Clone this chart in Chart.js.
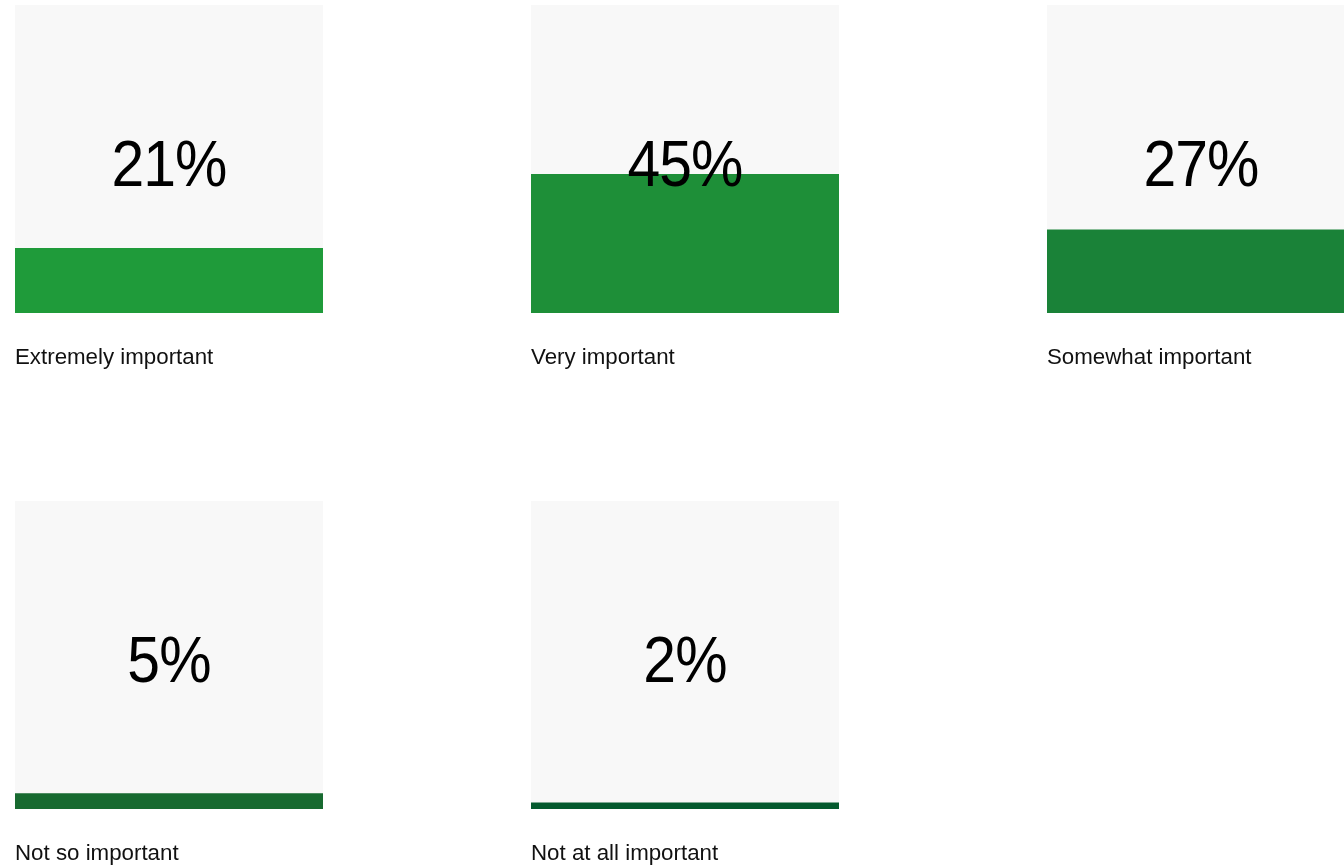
<!DOCTYPE html>
<html>
<head>
<meta charset="utf-8">
<script src="https://cdn.jsdelivr.net/npm/chart.js@4"></script>
<style>
  html, body { margin: 0; padding: 0; background: #fff; overflow: hidden; width: 1344px; height: 865px; }
  .panel { position: absolute; }
  .panel canvas { display: block; }
</style>
</head>
<body>
<script>
// Survey answers: how important is it?
const categories = ['Extremely important', 'Very important', 'Somewhat important', 'Not so important', 'Not at all important'];
const shares = [21, 45, 27, 5, 2];
const barColors = ['#1f9b3a', '#1e8f38', '#1a8238', '#186a30', '#045a2e'];

// grid placement of the small multiples (column, row)
const cellPos = [[0, 0], [1, 0], [2, 0], [0, 1], [1, 1]];
const COL_STEP = 516, ROW_STEP = 496, LEFT = 15, TOP = 5;
const BOX = 308, LABEL_SPACE = 62;

const panelPlugin = {
  id: 'panelDecor',
  beforeDatasetsDraw(chart) {
    const { ctx, chartArea: a } = chart;
    ctx.save();
    ctx.fillStyle = '#f8f8f8';
    ctx.fillRect(a.left, a.top, a.right - a.left, a.bottom - a.top);
    ctx.restore();
  },
  afterDatasetsDraw(chart) {
    const { ctx, chartArea: a } = chart;
    const value = chart.data.datasets[0].data[0];
    const cx = (a.left + a.right) / 2;
    // big value, set slightly condensed
    ctx.save();
    ctx.fillStyle = '#000';
    ctx.textAlign = 'center';
    ctx.textBaseline = 'alphabetic';
    ctx.font = '64px "Liberation Sans", Arial, sans-serif';
    ctx.letterSpacing = '-1px';
    ctx.translate(cx, a.top + 181);
    ctx.scale(0.92, 1);
    ctx.fillText(value + '%', 0, 0);
    ctx.restore();
    // category caption under the box
    ctx.save();
    ctx.textAlign = 'left';
    ctx.textBaseline = 'alphabetic';
    ctx.fillStyle = '#111';
    ctx.font = '22.3px "Liberation Sans", Arial, sans-serif';
    ctx.fillText(chart.data.labels[0], a.left, a.bottom + 51);
    ctx.restore();
  }
};

categories.forEach((cat, i) => {
  const div = document.createElement('div');
  div.className = 'panel';
  div.style.left = (LEFT + cellPos[i][0] * COL_STEP) + 'px';
  div.style.top = (TOP + cellPos[i][1] * ROW_STEP) + 'px';
  const canvas = document.createElement('canvas');
  canvas.width = BOX;
  canvas.height = BOX + LABEL_SPACE;
  div.appendChild(canvas);
  document.body.appendChild(div);

  new Chart(canvas, {
    type: 'bar',
    data: {
      labels: [cat],
      datasets: [{
        data: [shares[i]],
        backgroundColor: barColors[i],
        borderWidth: 0,
        barPercentage: 1,
        categoryPercentage: 1
      }]
    },
    options: {
      responsive: false,
      animation: false,
      devicePixelRatio: 1,
      layout: { padding: { left: 0, right: 0, top: 0, bottom: LABEL_SPACE } },
      plugins: { legend: { display: false }, tooltip: { enabled: false } },
      scales: {
        x: { display: false },
        y: { display: false, min: 0, max: 100 }
      }
    },
    plugins: [panelPlugin]
  });
});
</script>
</body>
</html>
